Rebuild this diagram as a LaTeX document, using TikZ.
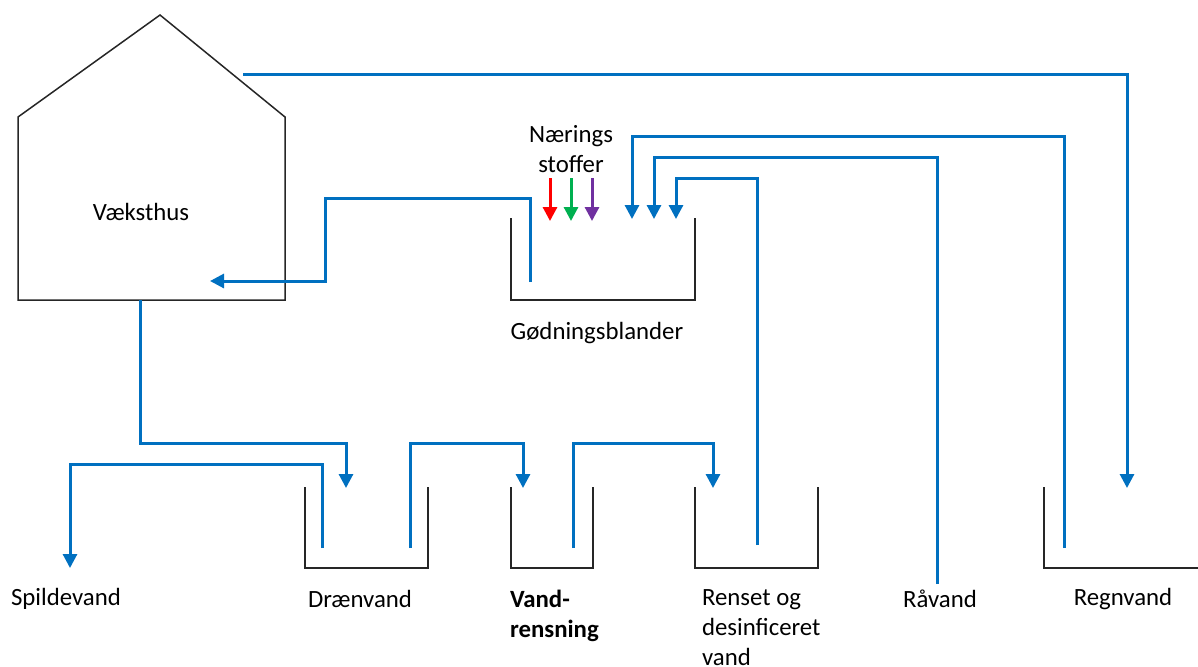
\documentclass[tikz,border=0pt]{standalone}
\usepackage{fontspec}
\setmainfont{Carlito}
\usetikzlibrary{arrows.meta}
\definecolor{pipeblue}{HTML}{0070C0}
\definecolor{nred}{HTML}{FF0000}
\definecolor{ngreen}{HTML}{00B050}
\definecolor{npurple}{HTML}{7030A0}

\begin{document}
\begin{tikzpicture}[x=0.5pt, y=-0.5pt, font=\fontsize{12.4}{15}\selectfont,
                flow/.style={draw=pipeblue, line width=1.5pt, -{Triangle[width=7pt,length=7pt]}},
                wall/.style={draw=black!85, line width=0.75pt},
                dose/.style={line width=1.5pt, -{Triangle[width=7pt,length=7pt]}}]
                \useasboundingbox (0,0) rectangle (1198,666);
                % huset og tankene
                \draw[wall] (18,300) -- (18,117) -- (160,15) -- (285,117) -- (285,300) -- cycle;
                \draw[wall] (511,218) |- (695,300) -- (695,218);
                \draw[wall] (305,487) |- (428,568) -- (428,487);
                \draw[wall] (511,487) |- (593,568) -- (593,487);
                \draw[wall] (695,487) |- (818,568) -- (818,487);
                \draw[wall] (1044,487) |- (1198,568);
                % tekster
                \node (vaeksthus) at (141,212) {Væksthus};
                \node (blander) at (597,333) {Gødningsblander};
                \node[align=center] (naering) at (571,149) {Nærings\\stoffer};
                \node (spilde) at (66,599) {Spildevand};
                \node (draen) at (360,599) {Drænvand};
                \node[anchor=north west, align=left, font=\fontsize{12.4}{15}\selectfont\bfseries] (rensning) at (503,583) {Vand-\\rensning};
                \node[anchor=north west, align=left] (renset) at (695,583) {Renset og\\desinficeret\\vand};
                \node (raavand) at (940,599) {Råvand};
                \node (regn) at (1123,599) {Regnvand};
                % ender af ledningerne
                \coordinate (tag) at (243,74);
                \coordinate (regnind) at (1127,488);
                \coordinate (regnud) at (1064,548);
                \coordinate (raaud) at (937,584);
                \coordinate (rensetud) at (757,545);
                \coordinate (blanderud) at (530,282);
                \coordinate (husind) at (210,281);
                \coordinate (husud) at (140,300);
                \coordinate (blanderA) at (632,219);
                \coordinate (blanderB) at (654,219);
                \coordinate (blanderC) at (676,219);
                \coordinate (draenind) at (346,488);
                \coordinate (draenudA) at (322,548);
                \coordinate (draenudB) at (410,548);
                \coordinate (spildeind) at (70,568);
                \coordinate (vandind) at (523,488);
                \coordinate (vandud) at (573,548);
                \coordinate (rensetind) at (713,488);
                % naeringsstoffer
                \draw[dose, nred] (550,178) -- (550,221);
                \draw[dose, ngreen] (571,178) -- (571,221);
                \draw[dose, npurple] (592,178) -- (592,221);
                % vandet
                \draw[flow] (tag) -| (regnind);
                \draw[flow] (regnud) -- (1064,136) -| (blanderA);
                \draw[flow] (raaud) -- (937,157) -| (blanderB);
                \draw[flow] (rensetud) -- (757,178) -| (blanderC);
                \draw[flow] (blanderud) |- (325,198) |- (husind);
                \draw[flow] (husud) -- (140,443) -| (draenind);
                \draw[flow] (draenudA) -- (322,464) -| (spildeind);
                \draw[flow] (draenudB) -- (410,443) -| (vandind);
                \draw[flow] (vandud) -- (573,443) -| (rensetind);
            \end{tikzpicture}
\end{document}
